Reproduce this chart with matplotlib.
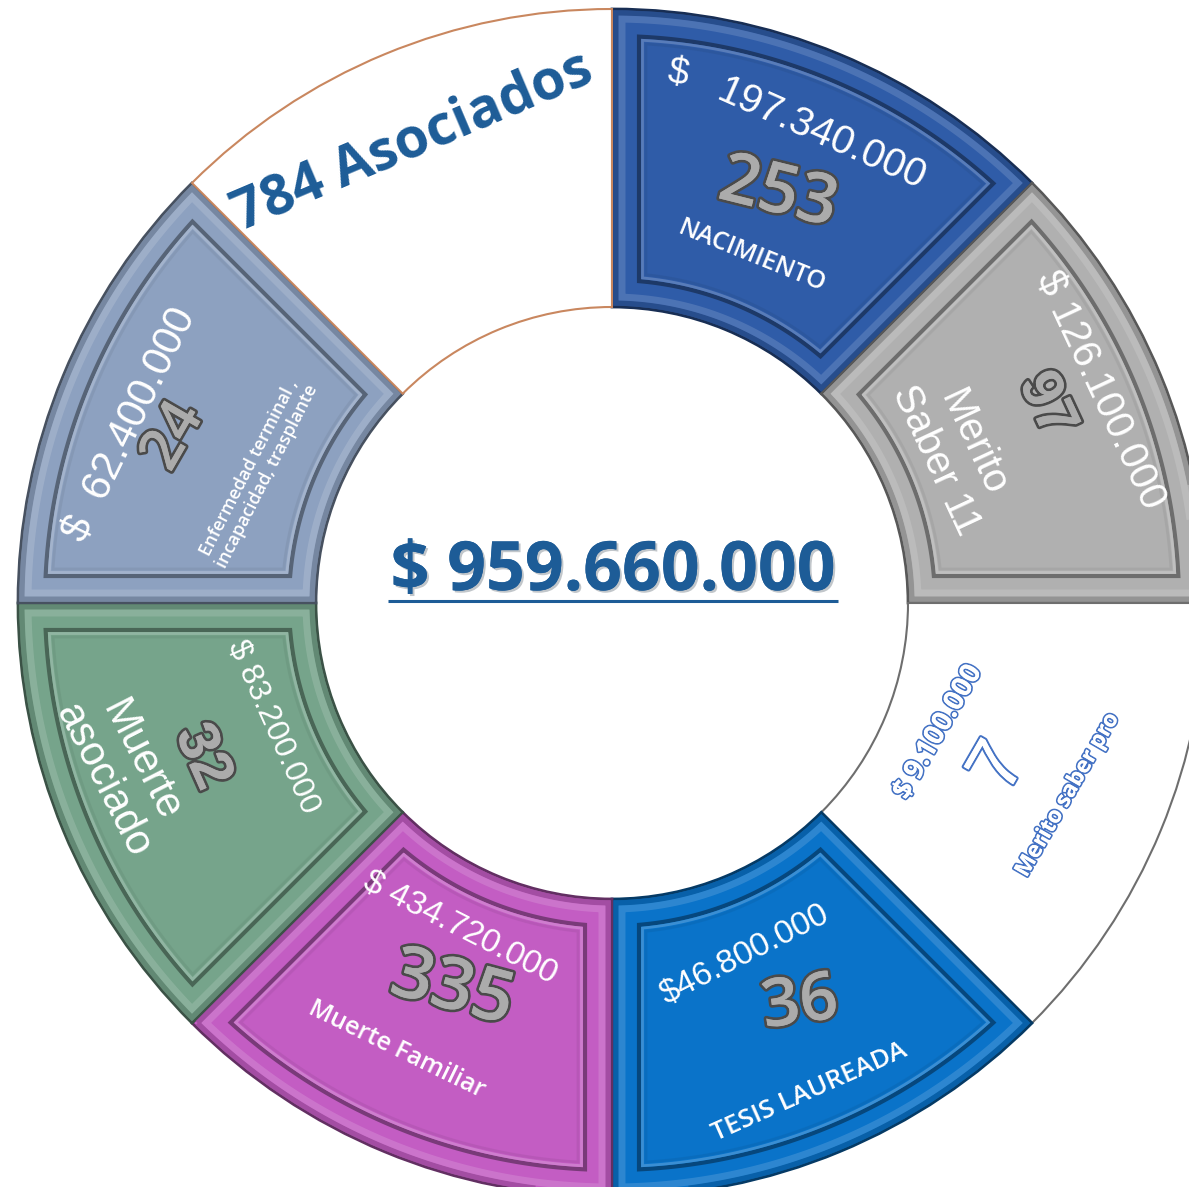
import numpy as np
import matplotlib
matplotlib.use("Agg")
import matplotlib.pyplot as plt
from matplotlib import patheffects as pe
from matplotlib.colors import to_rgb
from matplotlib.patches import Polygon

# ---- data -------------------------------------------------------------
categories = ["NACIMIENTO", "Merito\nSaber 11", "Merito saber pro", "TESIS LAUREADA",
              "Muerte Familiar", "Muerte\nasociado",
              "Enfermedad terminal ,\nincapacidad, trasplante", "Asociados"]
amounts = ["$ 197.340.000", "$ 126.100.000", "$ 9.100.000", "$46.800.000",
           "$ 434.720.000", "$ 83.200.000", "$  62.400.000", ""]
counts = [253, 97, 7, 36, 335, 32, 24, 784]
shares = [1, 1, 1, 1, 1, 1, 1, 1]
colors = ["#2F5CA8", "#B0B0B0", "#FFFFFF", "#0A73C9",
          "#C35DC3", "#76A48B", "#8DA1C0", "#FFFFFF"]
total_label = "$ 959.660.000"

# ---- layout (image pixels, y down) -----------------------------------
W, H = 1189, 1187
CX, CY = 612, 603
R_OUT, R_IN = 594, 296
BLUE_TXT = "#1D5C97"
OUTLINE = "#4472C4"

# (x, y, rotation, fontsize) for amount / count / category label
amount_pos = [(822, 135, -24, 29), (1100, 390, -65, 29), (938, 732, 60, 20),
              (745, 955, 27, 24), (460, 928, -27, 24), (273, 727, -66, 23),
              (130, 425, 64, 30), None]
count_pos = [(778, 195, -14, 50), (1046, 405, -65, 42), (1000, 768, 60, 54),
             (800, 1005, 8, 48), (452, 990, -15, 52), (202, 757, -66, 42),
             (174, 437, 60, 42), (413, 142, 23, 40)]
label_pos = [(752, 256, -22, 18), (955, 452, -65, 29), (1068, 795, 60, 16),
             (810, 1092, 24, 19), (397, 1050, -26, 18), (122, 770, -63, 30),
             (258, 472, 63, 13), None]


def Y(y):
    return H - y


def shade(c, f):
    r, g, b = to_rgb(c)
    return (r * f, g * f, b * f)


def tint(c, f):
    r, g, b = to_rgb(c)
    return (r + (1 - r) * f, g + (1 - g) * f, b + (1 - b) * f)


def inset_poly(t1, t2, cx, cy, ri, ro, d):
    ro2, ri2 = ro - d, ri + d
    a1 = np.radians(t1) + np.arcsin(d / ro2)
    a2 = np.radians(t2) - np.arcsin(d / ro2)
    b1 = np.radians(t1) + np.arcsin(d / ri2)
    b2 = np.radians(t2) - np.arcsin(d / ri2)
    ta = np.linspace(a1, a2, 80)
    tb = np.linspace(b2, b1, 80)
    xs = np.concatenate([cx + ro2 * np.cos(ta), cx + ri2 * np.cos(tb)])
    ys = np.concatenate([cy + ro2 * np.sin(ta), cy + ri2 * np.sin(tb)])
    return np.column_stack([xs, ys])


fig = plt.figure(figsize=(W / 100, H / 100), dpi=100)
ax = fig.add_axes([0, 0, 1, 1])

wedges, _ = ax.pie(shares, colors=colors, startangle=90, counterclock=False,
                   radius=R_OUT, center=(CX, Y(CY)),
                   wedgeprops=dict(width=R_OUT - R_IN, linewidth=1.5))

for i, (w, c) in enumerate(zip(wedges, colors)):
    t1, t2 = w.theta1, w.theta2
    if c.upper() == "#FFFFFF":
        w.set_edgecolor("#C9875F" if i == 7 else "#6E6E6E")
        w.set_linewidth(1.5)
        continue
    w.set_edgecolor(shade(c, 0.5))
    w.set_linewidth(2)
    for d, col, lw, a in [(4, shade(c, 0.8), 4, 0.8), (10, tint(c, 0.18), 5, 0.8),
                          (27, shade(c, 0.62), 3, 1.0), (30.5, tint(c, 0.22), 2, 0.9),
                          (34, shade(c, 0.93), 2, 0.8)]:
        ax.add_patch(Polygon(inset_poly(t1, t2, CX, Y(CY), R_IN, R_OUT, d),
                             closed=True, fill=False, edgecolor=col, lw=lw,
                             alpha=a, joinstyle="miter"))

num_fx = [pe.withStroke(linewidth=4, foreground="#4A4A4A")]
out_fx = [pe.withStroke(linewidth=2.5, foreground=OUTLINE)]
white_kw = dict(color="white", ha="center", va="center", family="Liberation Sans")

for i, cat in enumerate(categories):
    white_seg = colors[i].upper() == "#FFFFFF"
    # amount
    if amount_pos[i] is not None:
        x, y, rot, fs = amount_pos[i]
        if i == 0:
            dollar, rest = amounts[i].split(" ", 1)
            ax.text(678, Y(74), dollar, rotation=-10, fontsize=27, **white_kw)
            ax.text(x, Y(y), rest, rotation=rot, fontsize=fs, **white_kw)
        elif white_seg:
            ax.text(x, Y(y), amounts[i], rotation=rot, fontsize=fs, color="white",
                    ha="center", va="center", family="Open Sans", weight="bold",
                    path_effects=out_fx + [pe.Normal()])
        else:
            ax.text(x, Y(y), amounts[i], rotation=rot, fontsize=fs, **white_kw)
    # count
    x, y, rot, fs = count_pos[i]
    if i == 7:
        ax.text(x, Y(y), f"{counts[i]} {cat}", rotation=rot, fontsize=fs,
                color=BLUE_TXT, ha="center", va="center", family="Open Sans",
                weight="bold")
    elif white_seg:
        ax.text(x, Y(y), str(counts[i]), rotation=rot, fontsize=fs, color="white",
                ha="center", va="center", family="Liberation Sans",
                path_effects=[pe.withStroke(linewidth=3, foreground=OUTLINE), pe.Normal()])
    else:
        fam = "Liberation Sans" if i in (1, 5) else "Open Sans"
        ax.text(x, Y(y), str(counts[i]), rotation=rot, fontsize=fs, color="#ABABAB",
                ha="center", va="center", family=fam, weight="semibold",
                path_effects=num_fx + [pe.Normal()])
    # category label
    if label_pos[i] is not None:
        x, y, rot, fs = label_pos[i]
        if white_seg:
            ax.text(x, Y(y), cat, rotation=rot, fontsize=fs, color="white",
                    ha="center", va="center", family="Open Sans", weight="bold",
                    path_effects=out_fx + [pe.Normal()])
        elif i in (1, 5):
            ax.text(x, Y(y), cat, rotation=rot, fontsize=fs, linespacing=1.1,
                    multialignment="center", **white_kw)
        else:
            ax.text(x, Y(y), cat, rotation=rot, fontsize=fs, color="white",
                    ha="center", va="center", family="Open Sans", weight="semibold",
                    linespacing=1.15, multialignment="center")

# total in the centre
ax.text(613, Y(572), total_label, fontsize=49, color=BLUE_TXT, ha="center",
        va="center", family="Open Sans", weight="bold",
        path_effects=[pe.withSimplePatchShadow(offset=(1.5, -1.5), alpha=0.25), pe.Normal()])
ax.plot([388, 838], [Y(601), Y(601)], color=BLUE_TXT, lw=2.2, solid_capstyle="butt")

ax.set_xlim(0, W)
ax.set_ylim(0, H)
ax.set_aspect("auto")
ax.axis("off")
fig.savefig("out.png", dpi=100, facecolor="white")
